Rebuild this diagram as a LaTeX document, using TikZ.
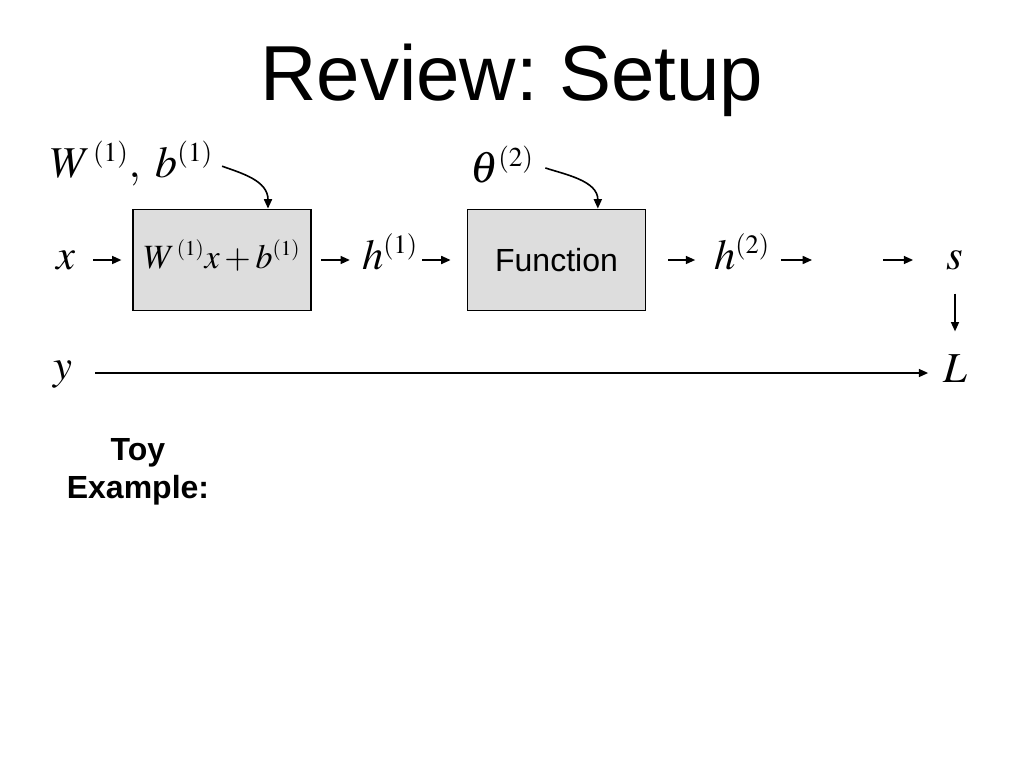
\documentclass[tikz,border=0pt]{standalone}
\usepackage{mathptmx}
\usepackage[no-math]{fontspec}
\newfontfamily\arial{Liberation Sans}
\usetikzlibrary{arrows.meta}
\definecolor{boxgray}{RGB}{221,221,221}
\def\defaultscriptratio{.62}
\frenchspacing

\begin{document}
\begin{tikzpicture}[x=0.75pt,y=-0.75pt,>={Triangle[length=7pt,width=6pt]},
		block/.style={rectangle,draw=black,fill=boxgray,line width=1.4pt,minimum width=133.5pt,minimum height=75.75pt,inner sep=0pt},
		sym/.style={inner sep=0pt,text height=20pt,text depth=6pt,font=\fontsize{32}{38}\selectfont},
		param/.style={inner sep=0pt,anchor=base west,font=\fontsize{33}{40}\selectfont},
		flow/.style={->,line width=1.2pt}]
		\useasboundingbox (0,0) rectangle (1024,768);
		\node[font=\fontsize{58.5}{70}\selectfont\arial] (title) at (512,80) {Review: Setup};
		
		\node[param]  (Wb)    at (50,177)  {$W^{\,(1)},\; b^{(1)}$};
		\node[param]  (theta) at (470,182) {$\theta^{(2)}$};
		
		\node[sym]    (x)     at (66,260)  {$x$};
		\node[block,text height=18pt,text depth=6pt,font=\fontsize{25.5}{31}\selectfont] (box1) at (222,260) {$W^{\,(1)}x+b^{(1)}$};
		\node[sym]    (h1)    at (390,260) {$h^{(1)}$};
		\node[block,font=\fontsize{24}{29}\selectfont\arial] (box2) at (556.5,260) {Function};
		\node[sym]    (h2)    at (742,260) {$h^{(2)}$};
		\coordinate   (gap1)  at (812,260);
		\coordinate   (gap2)  at (883,260);
		\node[sym]    (s)     at (955,260) {$s$};
		\node[sym]    (y)     at (63,370)  {$y$};
		\node[sym]    (L)     at (955,373) {$L$};
		
		\node[align=center,font=\fontsize{24}{28.5}\selectfont\arial\bfseries] (toy) at (138,472) {Toy\\Example:};
		
		\path[flow]
		(x) edge[shorten <=13pt,shorten >=8pt] (box1)
		(box1) edge[shorten <=7pt,shorten >=9pt] (h1)
		(h1) edge[shorten <=3pt,shorten >=12pt] (box2)
		(box2) edge[shorten <=16.5pt,shorten >=14pt] (h2)
		(h2) edge[shorten <=8pt] (gap1)
		(gap2) edge[shorten >=25pt] (s)
		(s) edge[shorten <=12pt,shorten >=18pt] (L);
		\draw[flow,shorten <=17pt,shorten >=11pt] (y.east |- L) -- (L);
		
		% parameters feeding the blocks
		\draw[flow,shorten <=7pt] (Wb.east) .. controls +(28,10) and +(0,-28) .. ([xshift=34.5pt]box1.north);
		\draw[flow,shorten <=9pt] (theta.east) .. controls +(30,10) and +(0,-28) .. ([xshift=31pt]box2.north);
\end{tikzpicture}
\end{document}
